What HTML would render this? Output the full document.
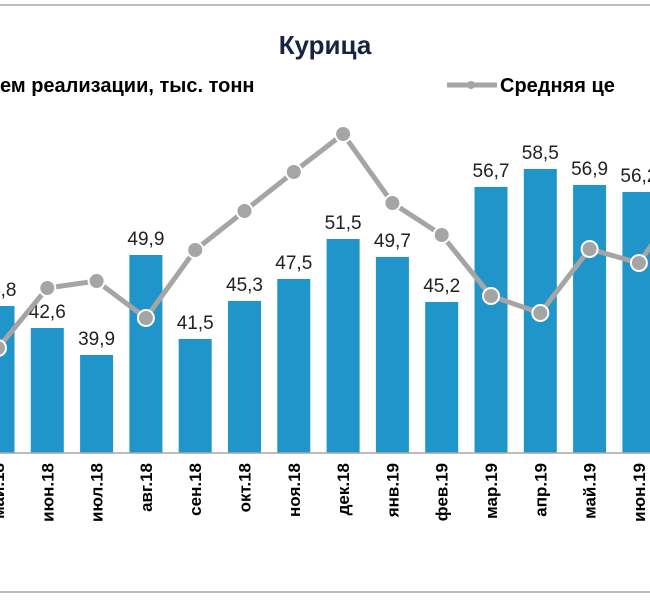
<!DOCTYPE html>
<html><head><meta charset="utf-8"><style>
html,body{margin:0;padding:0;background:#fff}
svg{display:block}
text{font-family:"Liberation Sans",Arial,sans-serif}
</style></head><body>
<svg width="650" height="600" viewBox="0 0 650 600">
<line x1="0" y1="5" x2="650" y2="5" stroke="#a6a6a6" stroke-width="1.5"/>
<line x1="0" y1="592" x2="650" y2="592" stroke="#a6a6a6" stroke-width="1.5"/>
<text x="325" y="54" text-anchor="middle" font-size="26" font-weight="bold" fill="#172340">Курица</text>
<text x="0" y="92" font-size="20" font-weight="bold" fill="#000">ем реализации, тыс. тонн</text>
<g>
<line x1="447" y1="85" x2="497" y2="85" stroke="#a5a5a5" stroke-width="5"/>
<circle cx="471" cy="85" r="4" fill="#a5a5a5"/>
<text x="500" y="92" font-size="20" font-weight="bold" fill="#000">Средняя це</text>
</g>
<g id="plot"></g>
<line x1="0" y1="453" x2="650" y2="453" stroke="#a6a6a6" stroke-width="1.5"/>
</svg>
<script>
const categories=["май.18","июн.18","июл.18","авг.18","сен.18","окт.18","ноя.18","дек.18","янв.19","фев.19","мар.19","апр.19","май.19","июн.19","июл.19"];
const volumes=[44.8,42.6,39.9,49.9,41.5,45.3,47.5,51.5,49.7,45.2,56.7,58.5,56.9,56.2,57.5];
const volumeLabels=["44,8","42,6","39,9","49,9","41,5","45,3","47,5","51,5","49,7","45,2","56,7","58,5","56,9","56,2","57,5"];
const prices=[91,103,104.4,97,110.6,118.4,126.2,133.8,120,113.6,101.4,98,110.8,108,122];
const NS="http://www.w3.org/2000/svg";
const plot=document.getElementById('plot');
const x0=-2,pitch=49.3,base=453;
function xs(i){return x0+i*pitch;}
function yv(v){return base-(v-30.1)*10;}
function yp(p){return base-(p-70)*5;}
function mk(t,a){const e=document.createElementNS(NS,t);for(const k in a)e.setAttribute(k,a[k]);plot.appendChild(e);return e;}
categories.forEach((c,i)=>{
 const r=mk('rect',{x:xs(i)-16.5,y:yv(volumes[i]),width:33,height:base-yv(volumes[i]),fill:'#1f95c9'});
 
 
 const t=mk('text',{x:xs(i),y:yv(volumes[i])-10,'text-anchor':'middle','font-size':'19',fill:'#222'});
 t.textContent=volumeLabels[i];
 
 
 const l=mk('text',{transform:`translate(${xs(i)+6},463) rotate(-90)`,'text-anchor':'end','font-size':'17','font-weight':'bold',fill:'#000'});
 l.textContent=c;
 
 
});
const pts=prices.map((p,i)=>xs(i)+','+yp(p)).join(' ');
const pl=mk('polyline',{points:pts,fill:'none',stroke:'#a5a5a5','stroke-width':'5','stroke-linejoin':'round'});


prices.forEach((p,i)=>{
 const c=mk('circle',{cx:xs(i),cy:yp(p),r:8,fill:'#a5a5a5',stroke:'#fff','stroke-width':'2'});
 
 
});
</script>
</body></html>
